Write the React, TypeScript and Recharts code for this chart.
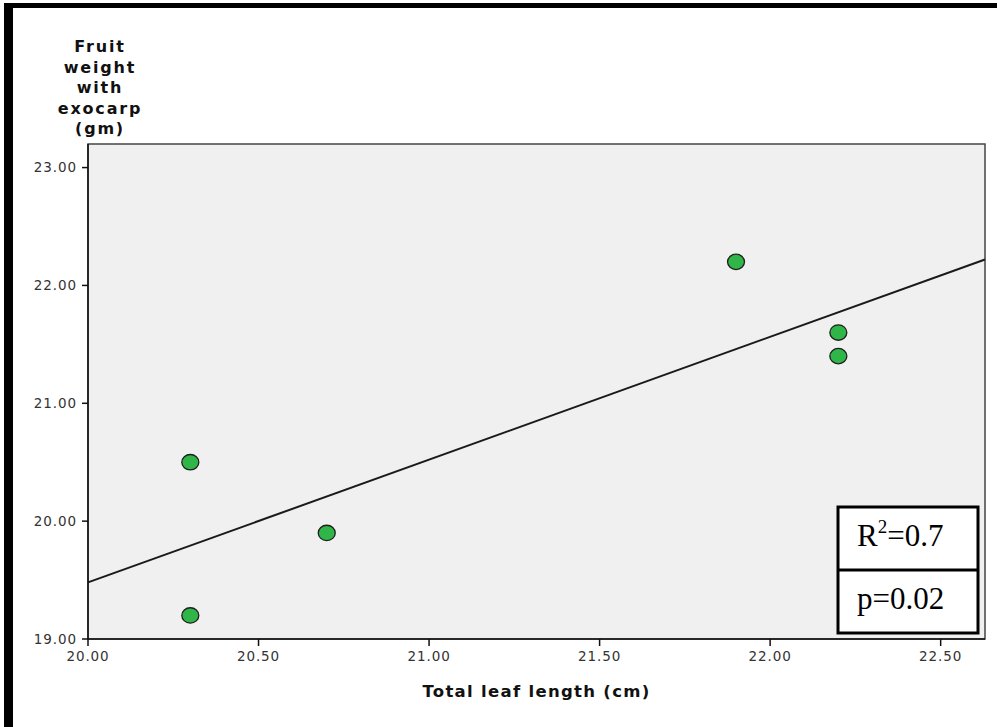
import React from "react";
import {
  ScatterChart,
  Scatter,
  XAxis,
  YAxis,
  ReferenceArea,
  ReferenceLine,
} from "recharts";

const leafLength = [20.3, 20.3, 20.7, 21.9, 22.2, 22.2];
const fruitWeight = [20.5, 19.2, 19.9, 22.2, 21.6, 21.4];
const fitX = [20, 22.63];
const fitY = [19.48, 22.22];
const xTicks = [20, 20.5, 21, 21.5, 22, 22.5];
const yTicks = [19, 20, 21, 22, 23];
const xDomain = [20, 22.63];
const yDomain = [19, 23.2];
const yTitleLines = ["Fruit", "weight", "with", "exocarp", "(gm)"];
const xTitle = "Total leaf length (cm)";
const r2Text = "0.7";
const pText = "p=0.02";

const points = leafLength.map((x, i) => ({ x, y: fruitWeight[i] }));

const Dot = (props: any) => {
  const { cx, cy } = props;
  if (cx == null || cy == null) return null;
  return (
    <ellipse cx={cx} cy={cy} rx={8.5} ry={7.7} fill="#2fb548" stroke="#1e1e1e" strokeWidth={1.3} />
  );
};

const tickStyle = {
  fontFamily: "DejaVu Sans",
  fontSize: 13.5,
  fill: "#333",
  letterSpacing: 0.9,
};

const YTitle = () => (
  <text
    textAnchor="middle"
    fontFamily="DejaVu Sans"
    fontWeight="bold"
    fontSize={16}
    letterSpacing={1.8}
    fill="#111"
  >
    {yTitleLines.map((l, i) => (
      <tspan key={i} x={100} y={52 + i * 20.5}>
        {l}
      </tspan>
    ))}
  </text>
);

export default function App() {
  return (
    <div style={{ position: "absolute", left: 0, top: 0, width: 997, height: 727, background: "#fff" }}>
      <ScatterChart
        width={997}
        height={727}
        margin={{ top: 144, right: 12, bottom: 0, left: 0 }}
      >
        <ReferenceArea
          x1={xDomain[0]}
          x2={xDomain[1]}
          y1={yDomain[0]}
          y2={yDomain[1]}
          fill="#f0f0f0"
          fillOpacity={1}
          stroke="#444"
          strokeWidth={1.5}
        />
        <XAxis
          type="number"
          dataKey="x"
          domain={xDomain}
          ticks={xTicks}
          allowDataOverflow
          tickFormatter={(v: number) => v.toFixed(2)}
          height={88}
          tickSize={7}
          tickMargin={5}
          tick={tickStyle}
          stroke="#111"
          strokeWidth={1.5}
          label={{
            value: xTitle,
            position: "insideTop",
            offset: 46,
            style: {
              fontFamily: "DejaVu Sans",
              fontWeight: "bold",
              fontSize: 16.5,
              letterSpacing: 1.3,
              fill: "#111",
            },
          }}
        />
        <YAxis
          type="number"
          dataKey="y"
          domain={yDomain}
          ticks={yTicks}
          allowDataOverflow
          tickFormatter={(v: number) => v.toFixed(2)}
          width={88}
          tickSize={6}
          tickMargin={5}
          tick={tickStyle}
          stroke="#111"
          strokeWidth={1.5}
        />
        <ReferenceLine
          segment={[
            { x: fitX[0], y: fitY[0] },
            { x: fitX[1], y: fitY[1] },
          ]}
          stroke="#1a1a1a"
          strokeWidth={2}
        />
        <Scatter data={points} shape={<Dot />} isAnimationActive={false} />
      </ScatterChart>
      <svg
        width={997}
        height={727}
        style={{ position: "absolute", left: 0, top: 0, pointerEvents: "none" }}
      >
        <YTitle />
        <rect x={4} y={3} width={993} height={5} fill="#000" />
        <rect x={4} y={3} width={9} height={724} fill="#000" />
        <rect x={838} y={507} width={140} height={126} fill="#fff" stroke="#000" strokeWidth={3} />
        <line x1={838} y1={570} x2={978} y2={570} stroke="#000" strokeWidth={3} />
        <text x={857} y={546} fontFamily="Liberation Serif" fontSize={31} fill="#000">
          R
          <tspan fontSize={19} dy={-13}>2</tspan>
          <tspan dy={13}>={r2Text}</tspan>
        </text>
        <text x={857} y={609} fontFamily="Liberation Serif" fontSize={31} fill="#000">
          {pText}
        </text>
      </svg>
    </div>
  );
}
